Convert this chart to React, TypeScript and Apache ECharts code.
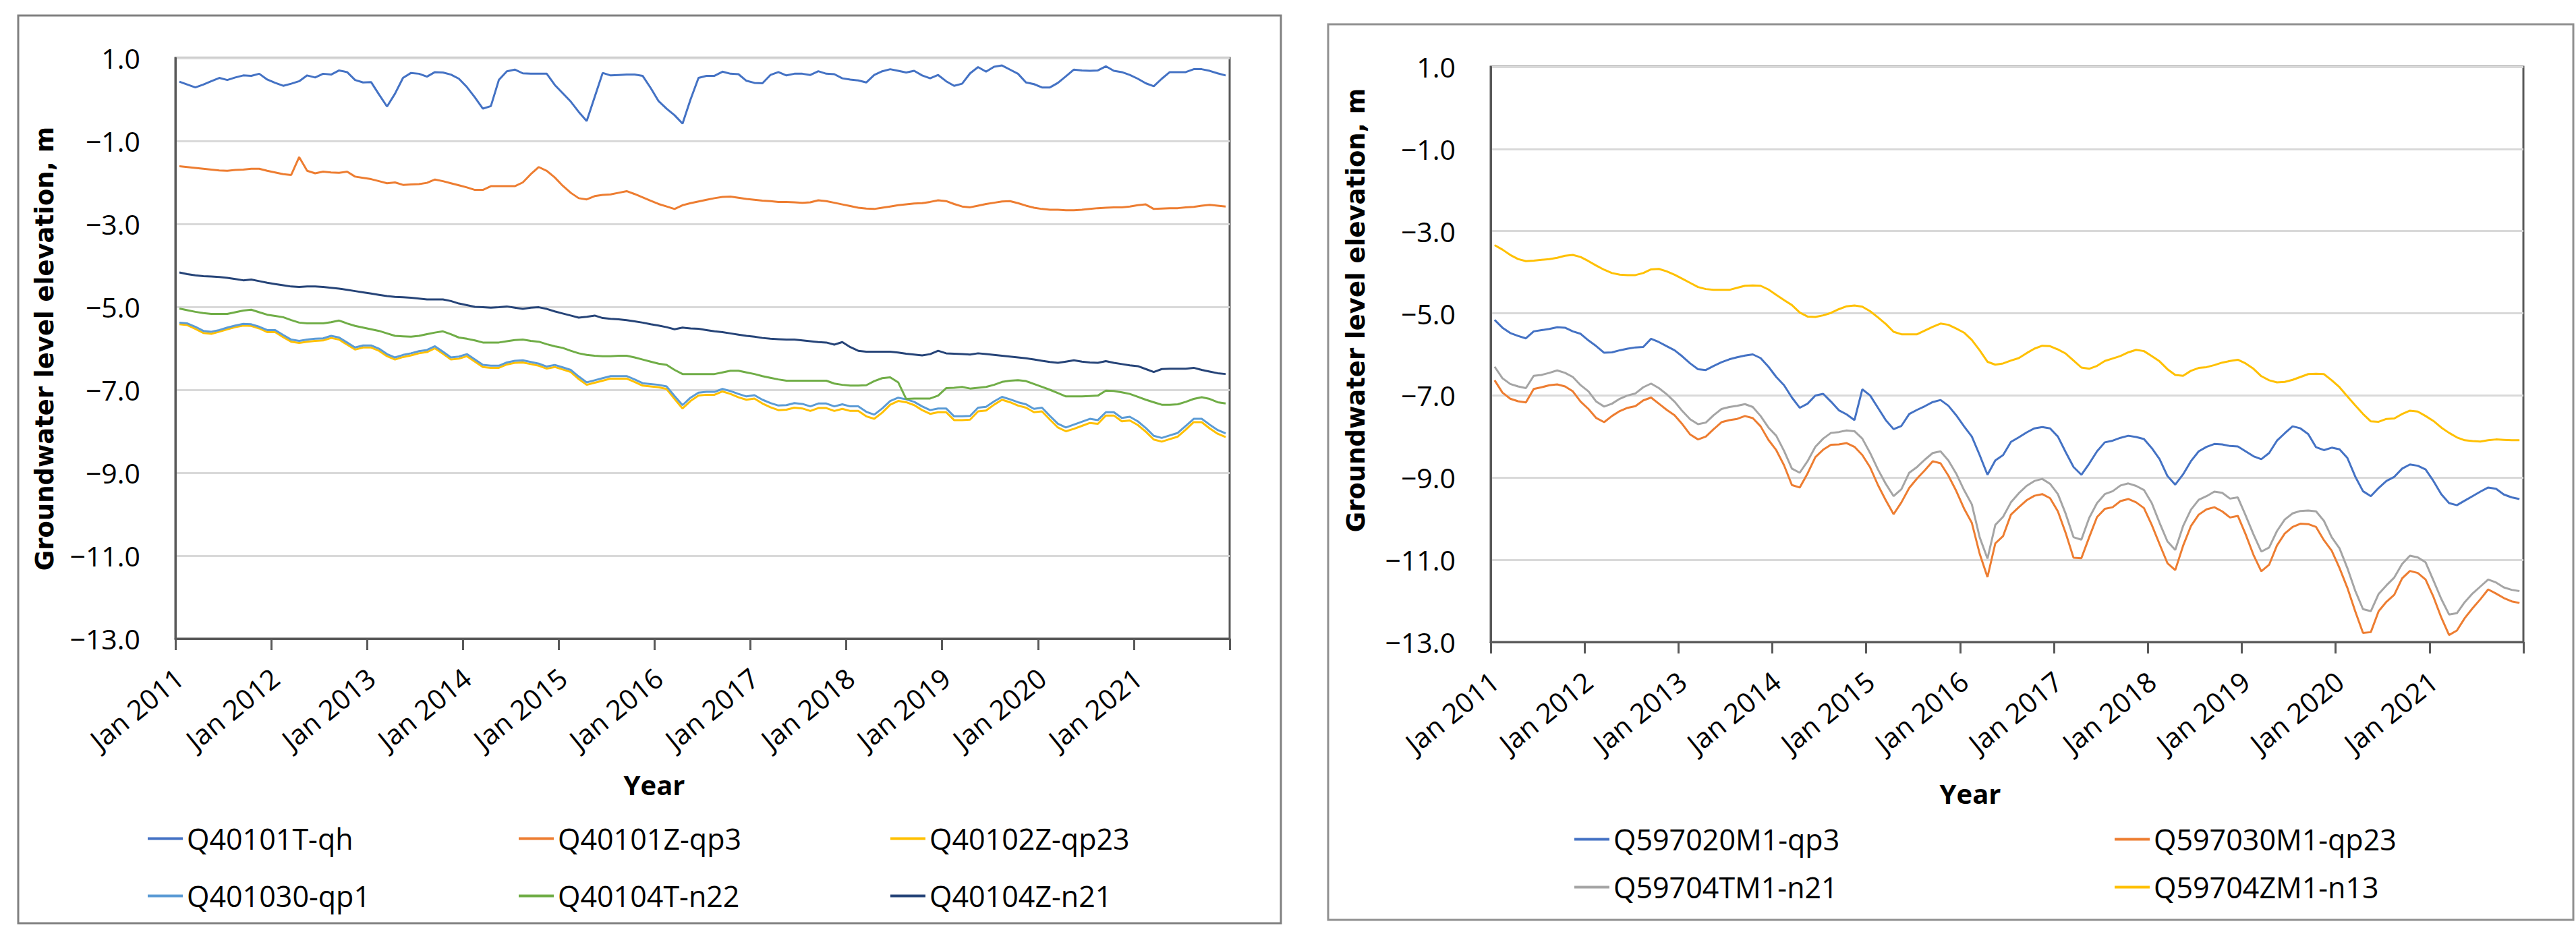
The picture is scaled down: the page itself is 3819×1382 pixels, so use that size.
import React, { useEffect, useRef } from "react";
import * as echarts from "echarts";

// ---------- categories ----------
const monthNames = ["Jan", "Feb", "Mar", "Apr", "May", "Jun", "Jul", "Aug", "Sep", "Oct", "Nov", "Dec"];
const years = [2011, 2012, 2013, 2014, 2015, 2016, 2017, 2018, 2019, 2020, 2021];
const categories: string[] = years.flatMap((y) => monthNames.map((m) => `${m} ${y}`));

const yTicks = { min: -13, max: 1, interval: 2 };

// ---------- left chart series (monthly, Jan 2011 - Dec 2021) ----------
const leftNames = ["Q40101T-qh", "Q40101Z-qp3", "Q40102Z-qp23", "Q401030-qp1", "Q40104T-n22", "Q40104Z-n21"];

const q40101T_qh = [
  0.43, 0.36, 0.29, 0.36, 0.44, 0.52, 0.47, 0.53, 0.58, 0.57, 0.62, 0.48,
  0.40, 0.33, 0.38, 0.44, 0.58, 0.53, 0.62, 0.60, 0.70, 0.66, 0.47, 0.41,
  0.42, 0.12, -0.17, 0.14, 0.52, 0.64, 0.62, 0.55, 0.66, 0.65, 0.60, 0.50,
  0.30, 0.05, -0.22, -0.16, 0.47, 0.68, 0.72, 0.63, 0.62, 0.62, 0.62, 0.35,
  0.15, -0.05, -0.30, -0.52, 0.06, 0.64, 0.58, 0.59, 0.60, 0.60, 0.57, 0.28,
  -0.04, -0.22, -0.38, -0.58, 0.00, 0.52, 0.57, 0.57, 0.67, 0.62, 0.61, 0.45,
  0.40, 0.39, 0.59, 0.66, 0.58, 0.62, 0.62, 0.59, 0.68, 0.62, 0.61, 0.51,
  0.48, 0.46, 0.41, 0.59, 0.68, 0.73, 0.69, 0.65, 0.69, 0.58, 0.51, 0.59,
  0.44, 0.33, 0.38, 0.63, 0.78, 0.67, 0.79, 0.82, 0.72, 0.62, 0.41, 0.37,
  0.29, 0.29, 0.40, 0.56, 0.72, 0.70, 0.69, 0.70, 0.80, 0.69, 0.66, 0.59,
  0.50, 0.39, 0.32, 0.50, 0.66, 0.66, 0.66, 0.73, 0.73, 0.69, 0.63, 0.58,
];

const q40101Z_qp3 = [
  -1.61, -1.63, -1.65, -1.67, -1.69, -1.71, -1.72, -1.70, -1.69, -1.67, -1.67, -1.72,
  -1.76, -1.80, -1.82, -1.39, -1.72, -1.78, -1.74, -1.76, -1.77, -1.74, -1.86, -1.89,
  -1.92, -1.97, -2.02, -2.00, -2.06, -2.05, -2.04, -2.01, -1.93, -1.97, -2.02, -2.07,
  -2.12, -2.18, -2.18, -2.09, -2.09, -2.09, -2.09, -2.00, -1.80, -1.63, -1.72, -1.88,
  -2.08, -2.25, -2.38, -2.41, -2.33, -2.30, -2.29, -2.25, -2.21, -2.28, -2.36, -2.44,
  -2.52, -2.58, -2.64, -2.55, -2.50, -2.46, -2.42, -2.38, -2.35, -2.34, -2.37, -2.40,
  -2.42, -2.44, -2.45, -2.47, -2.47, -2.48, -2.49, -2.48, -2.43, -2.45, -2.49, -2.53,
  -2.57, -2.61, -2.63, -2.64, -2.61, -2.58, -2.55, -2.53, -2.51, -2.50, -2.47, -2.43,
  -2.45, -2.52, -2.58, -2.60, -2.56, -2.52, -2.49, -2.46, -2.45, -2.50, -2.56, -2.61,
  -2.64, -2.66, -2.66, -2.67, -2.67, -2.66, -2.64, -2.62, -2.61, -2.60, -2.60, -2.58,
  -2.55, -2.53, -2.64, -2.63, -2.62, -2.62, -2.60, -2.59, -2.56, -2.54, -2.56, -2.58,
];

const q40102Z_qp23 = [
  -5.42, -5.44, -5.53, -5.63, -5.65, -5.60, -5.54, -5.49, -5.45, -5.46, -5.52, -5.61,
  -5.61, -5.73, -5.84, -5.87, -5.84, -5.82, -5.81, -5.75, -5.79, -5.91, -6.03, -5.98,
  -5.98, -6.06, -6.19, -6.27, -6.21, -6.17, -6.12, -6.09, -6.00, -6.13, -6.27, -6.25,
  -6.19, -6.32, -6.45, -6.47, -6.47, -6.39, -6.35, -6.34, -6.38, -6.42, -6.49, -6.45,
  -6.51, -6.57, -6.74, -6.88, -6.83, -6.78, -6.73, -6.73, -6.73, -6.81, -6.90, -6.92,
  -6.94, -6.98, -7.22, -7.45, -7.27, -7.14, -7.12, -7.12, -7.04, -7.10, -7.18, -7.24,
  -7.21, -7.33, -7.42, -7.49, -7.48, -7.43, -7.45, -7.51, -7.44, -7.44, -7.51, -7.46,
  -7.51, -7.51, -7.64, -7.70, -7.55, -7.36, -7.27, -7.30, -7.37, -7.49, -7.58, -7.54,
  -7.54, -7.73, -7.73, -7.72, -7.52, -7.50, -7.36, -7.24, -7.30, -7.38, -7.43, -7.54,
  -7.52, -7.72, -7.91, -8.00, -7.94, -7.87, -7.80, -7.82, -7.62, -7.62, -7.76, -7.74,
  -7.85, -8.01, -8.20, -8.25, -8.19, -8.13, -7.96, -7.78, -7.78, -7.93, -8.06, -8.14,
];

const q401030_qp1 = [
  -5.38, -5.40, -5.48, -5.58, -5.60, -5.56, -5.50, -5.45, -5.41, -5.42, -5.48, -5.56,
  -5.56, -5.68, -5.79, -5.82, -5.79, -5.77, -5.76, -5.70, -5.74, -5.86, -5.98, -5.93,
  -5.93, -6.01, -6.14, -6.22, -6.16, -6.12, -6.07, -6.04, -5.95, -6.08, -6.22, -6.20,
  -6.14, -6.27, -6.40, -6.42, -6.42, -6.34, -6.30, -6.29, -6.33, -6.37, -6.44, -6.40,
  -6.46, -6.52, -6.68, -6.82, -6.77, -6.72, -6.67, -6.67, -6.67, -6.75, -6.84, -6.86,
  -6.88, -6.92, -7.15, -7.37, -7.19, -7.07, -7.05, -7.05, -6.98, -7.03, -7.10, -7.16,
  -7.13, -7.24, -7.32, -7.38, -7.37, -7.32, -7.34, -7.40, -7.33, -7.33, -7.40, -7.35,
  -7.40, -7.40, -7.53, -7.60, -7.45, -7.27, -7.19, -7.23, -7.29, -7.40, -7.49, -7.45,
  -7.45, -7.64, -7.64, -7.63, -7.43, -7.41, -7.28, -7.17, -7.23, -7.30, -7.35, -7.46,
  -7.43, -7.63, -7.82, -7.91, -7.84, -7.77, -7.70, -7.73, -7.54, -7.54, -7.68, -7.65,
  -7.76, -7.92, -8.11, -8.16, -8.10, -8.04, -7.87, -7.70, -7.70, -7.84, -7.97, -8.05,
];

const q40104T_n22 = [
  -5.04, -5.08, -5.12, -5.15, -5.17, -5.17, -5.17, -5.13, -5.09, -5.07, -5.13, -5.19,
  -5.22, -5.25, -5.32, -5.38, -5.40, -5.40, -5.40, -5.37, -5.33, -5.40, -5.46, -5.50,
  -5.54, -5.58, -5.64, -5.70, -5.71, -5.72, -5.70, -5.66, -5.62, -5.59, -5.66, -5.74,
  -5.77, -5.81, -5.86, -5.86, -5.86, -5.83, -5.80, -5.79, -5.82, -5.84, -5.90, -5.95,
  -5.99, -6.06, -6.12, -6.16, -6.18, -6.19, -6.19, -6.18, -6.18, -6.22, -6.27, -6.32,
  -6.37, -6.40, -6.52, -6.62, -6.62, -6.62, -6.62, -6.62, -6.58, -6.54, -6.54, -6.58,
  -6.62, -6.67, -6.71, -6.75, -6.78, -6.78, -6.78, -6.78, -6.78, -6.78, -6.85, -6.88,
  -6.90, -6.90, -6.89, -6.79, -6.72, -6.70, -6.82, -7.22, -7.21, -7.21, -7.21, -7.14,
  -6.96, -6.95, -6.93, -6.97, -6.95, -6.93, -6.88, -6.81, -6.78, -6.77, -6.79, -6.86,
  -6.93, -7.00, -7.08, -7.16, -7.16, -7.16, -7.15, -7.14, -7.02, -7.03, -7.06, -7.10,
  -7.17, -7.24, -7.30, -7.36, -7.36, -7.35, -7.29, -7.22, -7.18, -7.22, -7.30, -7.33,
];

const q40104Z_n21 = [
  -4.17, -4.21, -4.24, -4.26, -4.27, -4.28, -4.30, -4.33, -4.36, -4.34, -4.38, -4.42,
  -4.45, -4.48, -4.51, -4.52, -4.51, -4.51, -4.52, -4.54, -4.56, -4.59, -4.62, -4.65,
  -4.68, -4.71, -4.74, -4.76, -4.77, -4.78, -4.80, -4.82, -4.82, -4.82, -4.86, -4.92,
  -4.96, -5.00, -5.01, -5.02, -5.01, -4.99, -5.02, -5.05, -5.02, -5.01, -5.05, -5.11,
  -5.16, -5.21, -5.26, -5.24, -5.21, -5.27, -5.29, -5.30, -5.32, -5.35, -5.38, -5.42,
  -5.45, -5.49, -5.54, -5.50, -5.52, -5.53, -5.56, -5.59, -5.61, -5.64, -5.67, -5.70,
  -5.72, -5.75, -5.77, -5.78, -5.79, -5.79, -5.81, -5.83, -5.85, -5.86, -5.91, -5.85,
  -5.97, -6.06, -6.08, -6.08, -6.08, -6.08, -6.10, -6.13, -6.15, -6.17, -6.14, -6.06,
  -6.12, -6.13, -6.14, -6.15, -6.12, -6.14, -6.16, -6.18, -6.20, -6.22, -6.24, -6.27,
  -6.30, -6.33, -6.35, -6.32, -6.29, -6.32, -6.34, -6.35, -6.31, -6.35, -6.38, -6.41,
  -6.43, -6.50, -6.57, -6.50, -6.49, -6.49, -6.49, -6.47, -6.52, -6.56, -6.60, -6.62,
];

// ---------- right chart series ----------
const rightNames = ["Q597020M1-qp3", "Q597030M1-qp23", "Q59704TM1-n21", "Q59704ZM1-n13"];

const q597020M1_qp3 = [
  -5.16, -5.35, -5.48, -5.55, -5.61, -5.44, -5.41, -5.38, -5.34, -5.35, -5.44, -5.50,
  -5.66, -5.80, -5.96, -5.95, -5.90, -5.86, -5.83, -5.82, -5.62, -5.70, -5.80, -5.90,
  -6.05, -6.22, -6.36, -6.38, -6.28, -6.19, -6.12, -6.07, -6.03, -6.00, -6.09, -6.30,
  -6.55, -6.75, -7.05, -7.30, -7.20, -7.00, -6.96, -7.15, -7.36, -7.46, -7.60, -6.85,
  -7.00, -7.30, -7.60, -7.82, -7.74, -7.45, -7.35, -7.26, -7.16, -7.11, -7.25, -7.48,
  -7.75, -8.00, -8.45, -8.93, -8.58, -8.45, -8.13, -8.02, -7.90, -7.80, -7.77, -7.80,
  -8.00, -8.38, -8.74, -8.93, -8.66, -8.36, -8.14, -8.10, -8.03, -7.98, -8.01, -8.06,
  -8.28, -8.55, -8.96, -9.17, -8.92, -8.60, -8.36, -8.25, -8.18, -8.19, -8.23, -8.24,
  -8.36, -8.48, -8.55, -8.40, -8.10, -7.92, -7.75, -7.80, -7.94, -8.26, -8.33, -8.27,
  -8.31, -8.52, -8.97, -9.33, -9.45, -9.25, -9.08, -8.98, -8.78, -8.68, -8.71, -8.80,
  -9.08, -9.40, -9.62, -9.67, -9.56, -9.45, -9.34, -9.24, -9.27, -9.41, -9.48, -9.52,
];

const q597030M1_qp23 = [
  -6.63, -6.93, -7.08, -7.14, -7.17, -6.84, -6.80, -6.75, -6.73, -6.78, -6.90, -7.15,
  -7.33, -7.55, -7.65, -7.50, -7.38, -7.30, -7.26, -7.12, -7.05, -7.20, -7.35, -7.48,
  -7.70, -7.95, -8.07, -8.00, -7.82, -7.65, -7.60, -7.57, -7.50, -7.55, -7.75, -8.08,
  -8.33, -8.70, -9.18, -9.24, -8.90, -8.50, -8.32, -8.20, -8.19, -8.16, -8.25, -8.45,
  -8.75, -9.18, -9.55, -9.89, -9.60, -9.25, -9.02, -8.82, -8.60, -8.65, -8.95, -9.32,
  -9.75, -10.10, -10.85, -11.42, -10.60, -10.42, -9.90, -9.72, -9.55, -9.44, -9.40, -9.50,
  -9.82, -10.35, -10.95, -10.96, -10.45, -9.96, -9.76, -9.72, -9.57, -9.52, -9.60, -9.74,
  -10.15, -10.62, -11.08, -11.25, -10.66, -10.18, -9.90, -9.77, -9.72, -9.82, -9.97, -9.93,
  -10.38, -10.88, -11.28, -11.12, -10.65, -10.36, -10.20, -10.12, -10.13, -10.20, -10.52, -10.78,
  -11.20, -11.68, -12.25, -12.78, -12.76, -12.25, -12.02, -11.85, -11.45, -11.27, -11.32, -11.48,
  -11.90, -12.40, -12.83, -12.72, -12.42, -12.18, -11.96, -11.72, -11.82, -11.93, -12.01, -12.05,
];

const q59704TM1_n21 = [
  -6.30, -6.58, -6.72, -6.78, -6.82, -6.52, -6.50, -6.45, -6.39, -6.45, -6.55, -6.75,
  -6.90, -7.15, -7.27, -7.20, -7.08, -7.00, -6.95, -6.80, -6.71, -6.82, -6.97, -7.15,
  -7.38, -7.58, -7.70, -7.66, -7.48, -7.33, -7.28, -7.25, -7.21, -7.28, -7.50, -7.78,
  -7.98, -8.35, -8.78, -8.88, -8.60, -8.25, -8.05, -7.91, -7.89, -7.85, -7.87, -8.05,
  -8.40, -8.80, -9.15, -9.45, -9.28, -8.88, -8.74, -8.56, -8.40, -8.36, -8.58, -8.90,
  -9.30, -9.65, -10.45, -10.97, -10.15, -9.95, -9.60, -9.38, -9.20, -9.08, -9.03, -9.15,
  -9.40, -9.88, -10.45, -10.51, -9.98, -9.62, -9.40, -9.33, -9.19, -9.14, -9.20, -9.30,
  -9.62, -10.10, -10.55, -10.76, -10.18, -9.78, -9.54, -9.45, -9.34, -9.37, -9.51, -9.48,
  -9.92, -10.38, -10.80, -10.70, -10.30, -10.02, -9.87, -9.81, -9.80, -9.82, -10.05, -10.45,
  -10.72, -11.20, -11.75, -12.20, -12.25, -11.83, -11.62, -11.43, -11.10, -10.90, -10.94, -11.06,
  -11.50, -11.95, -12.33, -12.30, -12.03, -11.82, -11.65, -11.48, -11.55, -11.67, -11.73, -11.76,
];

const q59704ZM1_n13 = [
  -3.34, -3.45, -3.58, -3.68, -3.73, -3.72, -3.70, -3.68, -3.65, -3.60, -3.58, -3.63,
  -3.73, -3.84, -3.94, -4.02, -4.06, -4.07, -4.07, -4.02, -3.93, -3.92, -3.98, -4.06,
  -4.16, -4.26, -4.36, -4.41, -4.43, -4.43, -4.43, -4.38, -4.33, -4.32, -4.33, -4.42,
  -4.55, -4.68, -4.80, -4.98, -5.08, -5.09, -5.05, -4.99, -4.90, -4.83, -4.81, -4.84,
  -4.95, -5.10, -5.26, -5.45, -5.51, -5.51, -5.51, -5.42, -5.33, -5.25, -5.28, -5.37,
  -5.47, -5.65, -5.90, -6.18, -6.25, -6.22, -6.15, -6.09, -5.97, -5.86, -5.79, -5.80,
  -5.88, -5.98, -6.15, -6.32, -6.35, -6.28, -6.16, -6.10, -6.04, -5.95, -5.89, -5.92,
  -6.04, -6.17, -6.36, -6.50, -6.52, -6.40, -6.33, -6.31, -6.26, -6.20, -6.16, -6.13,
  -6.22, -6.35, -6.53, -6.63, -6.68, -6.67, -6.62, -6.55, -6.48, -6.47, -6.48, -6.63,
  -6.80, -7.02, -7.24, -7.45, -7.63, -7.64, -7.57, -7.56, -7.45, -7.37, -7.39, -7.50,
  -7.62, -7.78, -7.91, -8.02, -8.09, -8.11, -8.12, -8.09, -8.07, -8.08, -8.09, -8.09,
];

const leftData = [q40101T_qh, q40101Z_qp3, q40102Z_qp23, q401030_qp1, q40104T_n22, q40104Z_n21];
const rightData = [q597020M1_qp3, q597030M1_qp23, q59704TM1_n21, q59704ZM1_n13];

const leftColors = ["#4472C4", "#ED7D31", "#FFC000", "#5B9BD5", "#70AD47", "#264478"];
const rightColors = ["#4472C4", "#ED7D31", "#A5A5A5", "#FFC000"];

const TICK_FONT = "'Open Sans', 'Liberation Sans', sans-serif";
const AXIS_DARK = "#595959";

function fmtY(v: number) {
  return v < 0 ? "\u2212" + Math.abs(v).toFixed(1) : v.toFixed(1);
}

function makeXAxis(gridIndex: number) {
  return {
    type: "category",
    gridIndex,
    data: categories,
    boundaryGap: true,
    axisLine: { show: true, onZero: false, lineStyle: { color: AXIS_DARK, width: 3 } },
    axisTick: { show: true, interval: 11, length: 17, lineStyle: { color: AXIS_DARK, width: 3 } },
    axisLabel: {
      interval: 11,
      rotate: 39,
      margin: 52,
      fontSize: 41,
      fontFamily: TICK_FONT,
      color: "#000",
    },
    splitLine: { show: false },
  };
}

function makeYAxis(gridIndex: number) {
  return {
    type: "value",
    gridIndex,
    min: yTicks.min,
    max: yTicks.max,
    interval: yTicks.interval,
    axisLine: { show: true, lineStyle: { color: AXIS_DARK, width: 3 } },
    axisTick: { show: false },
    axisLabel: {
      margin: 52,
      fontSize: 41,
      fontFamily: TICK_FONT,
      color: "#000",
      formatter: fmtY,
    },
    splitLine: { show: true, lineStyle: { color: "#d9d9d9", width: 3 } },
  };
}

function legendItem(name: string, left: number, top: number) {
  return {
    data: [name],
    left,
    top,
    padding: 0,
    icon: "rect",
    itemWidth: 52,
    itemHeight: 4,
    itemGap: 0,
    selectedMode: false,
    textStyle: { fontSize: 43, fontFamily: TICK_FONT, color: "#000", padding: [0, 0, 0, 1] },
  };
}

export default function App() {
  const ref = useRef<HTMLDivElement>(null);

  useEffect(() => {
    if (!ref.current) return;
    const chart = echarts.init(ref.current, undefined, { renderer: "svg" });

    const series: any[] = [];
    leftNames.forEach((name, i) => {
      series.push({
        name,
        type: "line",
        xAxisIndex: 0,
        yAxisIndex: 0,
        data: leftData[i],
        showSymbol: false,
        symbol: "none",
        color: leftColors[i],
        lineStyle: { width: 3, color: leftColors[i] },
      });
    });
    rightNames.forEach((name, i) => {
      series.push({
        name,
        type: "line",
        xAxisIndex: 1,
        yAxisIndex: 1,
        data: rightData[i],
        showSymbol: false,
        symbol: "none",
        color: rightColors[i],
        lineStyle: { width: 3, color: rightColors[i] },
      });
    });

    const legendRowsLeft = [1222, 1307];
    const legendColsLeft = [219, 769, 1320];
    const legendRowsRight = [1223, 1294];
    const legendColsRight = [2334, 3135];

    const legends: any[] = [];
    leftNames.forEach((name, i) => {
      legends.push(legendItem(name, legendColsLeft[i % 3], legendRowsLeft[Math.floor(i / 3)]));
    });
    rightNames.forEach((name, i) => {
      legends.push(legendItem(name, legendColsRight[i % 2], legendRowsRight[Math.floor(i / 2)]));
    });

    const titleFont = "'DejaVu Sans', sans-serif";

    chart.setOption({
      animation: false,
      backgroundColor: "#ffffff",
      grid: [
        { left: 260, top: 86, width: 1563, height: 861, show: true, borderColor: AXIS_DARK, borderWidth: 3, backgroundColor: "transparent" },
        { left: 2210, top: 99, width: 1531, height: 853, show: true, borderColor: AXIS_DARK, borderWidth: 3, backgroundColor: "transparent" },
      ],
      xAxis: [makeXAxis(0), makeXAxis(1)],
      yAxis: [makeYAxis(0), makeYAxis(1)],
      legend: legends,
      series,
      graphic: [
        {
          type: "rect",
          shape: { x: 27, y: 23, width: 1872, height: 1346 },
          style: { fill: "none", stroke: "#808080", lineWidth: 3 },
          silent: true,
          z: -1,
        },
        {
          type: "rect",
          shape: { x: 1969, y: 36, width: 1846, height: 1328 },
          style: { fill: "none", stroke: "#909090", lineWidth: 3 },
          silent: true,
          z: -1,
        },
        {
          type: "text",
          x: 66,
          y: 517,
          rotation: Math.PI / 2,
          style: {
            text: "Groundwater level elevation, m",
            font: `bold 37px ${titleFont}`,
            fill: "#000",
            textAlign: "center",
            textVerticalAlign: "middle",
          },
        },
        {
          type: "text",
          x: 2010,
          y: 460,
          rotation: Math.PI / 2,
          style: {
            text: "Groundwater level elevation, m",
            font: `bold 37px ${titleFont}`,
            fill: "#000",
            textAlign: "center",
            textVerticalAlign: "middle",
          },
        },
        {
          type: "text",
          x: 970,
          y: 1163,
          style: {
            text: "Year",
            font: `bold 40px ${TICK_FONT}`,
            fill: "#000",
            textAlign: "center",
            textVerticalAlign: "middle",
          },
        },
        {
          type: "text",
          x: 2921,
          y: 1176,
          style: {
            text: "Year",
            font: `bold 40px ${TICK_FONT}`,
            fill: "#000",
            textAlign: "center",
            textVerticalAlign: "middle",
          },
        },
      ],
    });

    return () => chart.dispose();
  }, []);

  return (
    <div
      ref={ref}
      style={{ position: "fixed", left: 0, top: 0, width: 3819, height: 1382, background: "#fff" }}
    />
  );
}
